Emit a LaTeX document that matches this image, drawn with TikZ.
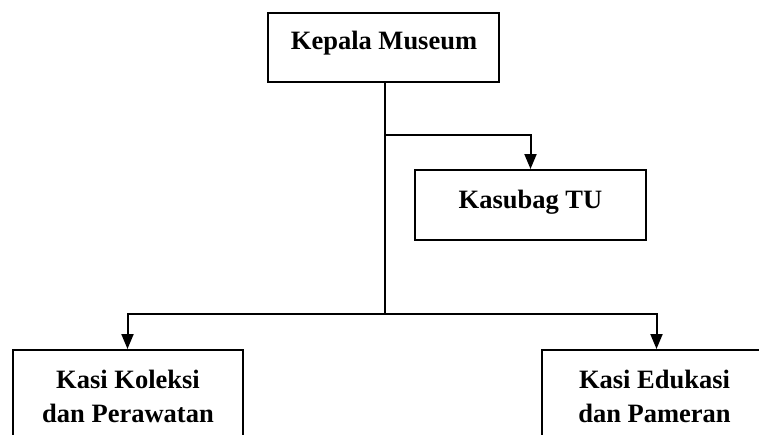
\documentclass[tikz,border=0pt]{standalone}
\usepackage{fontspec}
\setmainfont{Liberation Serif}
\usetikzlibrary{arrows.meta}
\begin{document}
\begin{tikzpicture}[x=1pt,y=-1pt,
  box/.style={draw,line width=2pt,minimum width=231pt,inner sep=0pt},
  txt/.style={font=\fontsize{26.5}{34.4}\selectfont\bfseries,inner sep=0pt,align=center},
  conn/.style={line width=2pt},
  arr/.style={conn,-{Triangle[length=15pt,width=12pt]}}]
\useasboundingbox (0,0) rectangle (759,434);
\clip (0,0) rectangle (759,434);
\node[box,minimum height=69.6pt] (km) at (383.5,47.5) {};
\node[txt,anchor=base] (kmt) at (384,49.3) {Kepala Museum};
\node[box,minimum height=70pt] (kt) at (530.5,205) {};
\node[txt,anchor=base] (ktt) at (530.5,208.3) {Kasubag TU};
\node[box,minimum width=230pt,minimum height=110pt] (kk) at (127.5,405) {};
\node[txt,anchor=base] (kkt) at (128,422.7) {Kasi Koleksi\\dan Perawatan};
\node[box,minimum width=230pt,minimum height=110pt] (ke) at (656.5,405) {};
\node[txt,anchor=base] (ket) at (654.5,422.7) {Kasi Edukasi\\dan Pameran};
\coordinate (j1) at (385.3,135);
\coordinate (j2) at (385.3,314);
\draw[conn] (km.south -| j1) -- (j2);
\draw[arr] (j1) -| (kt.north);
\draw[arr] (j2) -| (kk.north);
\draw[arr] (j2) -| (ke.north);
\end{tikzpicture}
\end{document}
